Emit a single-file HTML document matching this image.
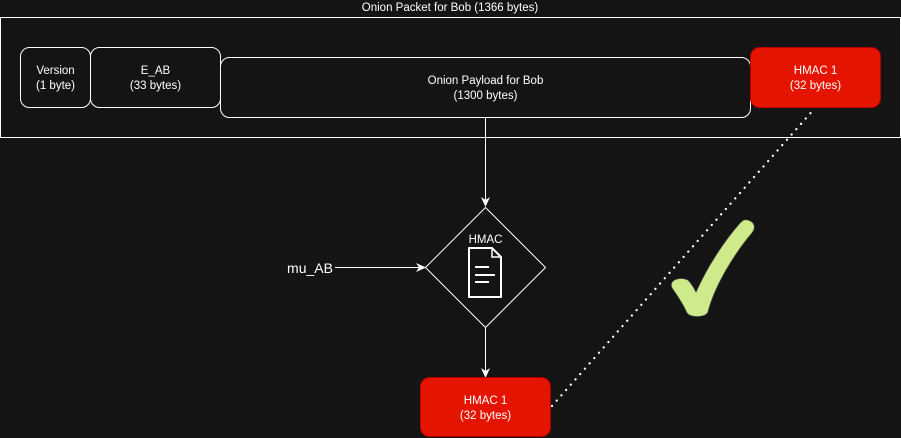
<!DOCTYPE html>
<html><head><meta charset="utf-8"><style>
html,body{margin:0;padding:0;background:#141414;width:901px;height:438px;overflow:hidden}
svg{display:block}
text{font-family:"Liberation Sans",Arial,sans-serif;fill:#fff}
</style></head><body>
<svg width="901" height="438" viewBox="0 0 901 438" xmlns="http://www.w3.org/2000/svg">
<rect width="901" height="438" fill="#141414"/>
<text x="450" y="11" font-size="11.5" text-anchor="middle">Onion Packet for Bob (1366 bytes)</text>
<rect x="0.5" y="17.5" width="900" height="120" fill="#141414" stroke="#fff" stroke-width="1"/>
<rect x="20.5" y="47.5" width="70" height="60" rx="9" fill="#141414" stroke="#fff"/>
<text x="55.5" y="74" font-size="11.5" text-anchor="middle">Version</text>
<text x="55.5" y="89" font-size="11.5" text-anchor="middle">(1 byte)</text>
<rect x="90.5" y="47.5" width="130" height="60" rx="9" fill="#141414" stroke="#fff"/>
<text x="155.5" y="74" font-size="11.5" text-anchor="middle">E_AB</text>
<text x="155.5" y="89" font-size="11.5" text-anchor="middle">(33 bytes)</text>
<rect x="220.5" y="57.5" width="530" height="60" rx="9" fill="#141414" stroke="#fff"/>
<text x="485.5" y="84" font-size="11.5" text-anchor="middle">Onion Payload for Bob</text>
<text x="485.5" y="99" font-size="11.5" text-anchor="middle">(1300 bytes)</text>
<rect x="750.5" y="47.5" width="130" height="60" rx="9" fill="#e51400" stroke="#b20000"/>
<text x="815.5" y="74" font-size="11.5" text-anchor="middle">HMAC 1</text>
<text x="815.5" y="89" font-size="11.5" text-anchor="middle">(32 bytes)</text>

<line x1="485.5" y1="117.5" x2="485.5" y2="200" stroke="#fff"/>
<path d="M481,197 L485.5,207 L490,197 L485.5,200 Z" fill="#fff"/>
<path d="M485.5,207.5 L545.5,267.5 L485.5,327.5 L425.5,267.5 Z" fill="#141414" stroke="#fff"/>
<text x="485.5" y="243" font-size="11.5" text-anchor="middle">HMAC</text>
<path d="M469,248 L492,248 L501,257 L501,297 L469,297 Z" fill="none" stroke="#fff" stroke-width="2" stroke-linejoin="round"/>
<path d="M492,248 L492,257 L501,257" fill="none" stroke="#fff" stroke-width="1.5"/>
<line x1="475" y1="267" x2="489" y2="267" stroke="#fff" stroke-width="2"/>
<line x1="475" y1="275" x2="495" y2="275" stroke="#fff" stroke-width="2"/>
<line x1="475" y1="282" x2="489" y2="282" stroke="#fff" stroke-width="2"/>

<text x="310" y="273" font-size="14" text-anchor="middle">mu_AB</text>
<line x1="335" y1="267.5" x2="419" y2="267.5" stroke="#fff"/>
<path d="M416,263 L426,267.5 L416,272 L419,267.5 Z" fill="#fff"/>

<line x1="485.5" y1="327.5" x2="485.5" y2="371" stroke="#fff"/>
<path d="M481,368 L485.5,378 L490,368 L485.5,371 Z" fill="#fff"/>
<rect x="420.5" y="377.5" width="130" height="59" rx="9" fill="#e51400" stroke="#b20000"/>
<text x="485.5" y="404" font-size="11.5" text-anchor="middle">HMAC 1</text>
<text x="485.5" y="419" font-size="11.5" text-anchor="middle">(32 bytes)</text>

<line x1="552" y1="406" x2="815" y2="108" stroke="#fff" stroke-width="2.2" stroke-dasharray="0.1 7" stroke-linecap="round"/>

<path d="M748,220 C755,222 756,228 752,233 C735,253 715,285 708,312 C706,318 690,318 687,313 C682,302 676,294 672,288 C668,280 680,276 688,280 C692,284 694,288 696,292 C708,265 725,240 740,223 C743,220 745,219 748,220 Z" fill="#cdeb8b" stroke="#36393d" stroke-width="0.8"/>
</svg>
</body></html>
